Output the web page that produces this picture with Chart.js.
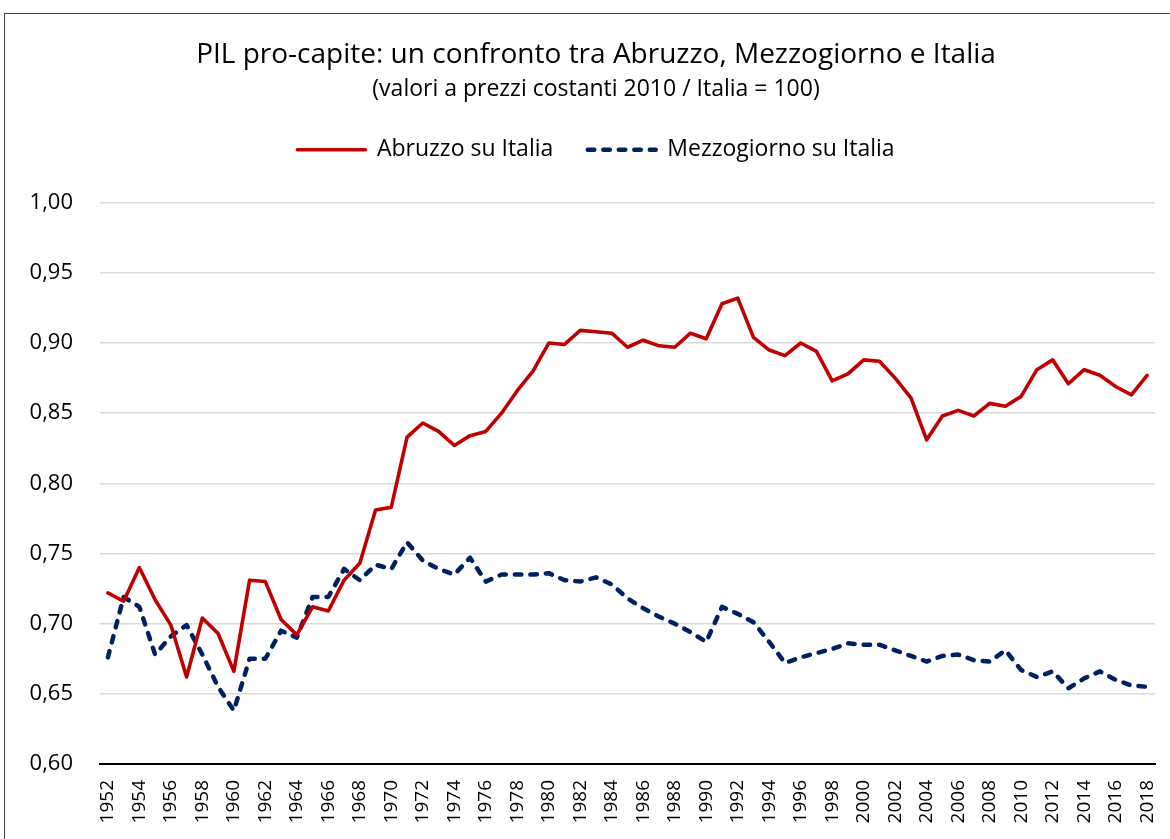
<!DOCTYPE html>
<html>
<head>
<meta charset="utf-8">
<script src="https://cdn.jsdelivr.net/npm/chart.js@4"></script>
<style>
  html, body { margin: 0; padding: 0; background: #fff; overflow: hidden; width: 1170px; height: 839px; }
  #frame { position: absolute; left: 4px; top: 13px; width: 1200px; height: 900px; border: 1px solid #404040; box-sizing: border-box; }
  #c { position: absolute; left: 5px; top: 14px; }
</style>
</head>
<body>
<div id="frame"></div>
<canvas id="c" width="1184" height="825" style="width:1184px;height:825px"></canvas>
<script>
const years = [];
for (let y = 1952; y <= 2018; y++) years.push(String(y));

const abruzzo = [
  0.722, 0.716, 0.740, 0.717, 0.699, 0.662, 0.704, 0.693, 0.666, 0.731,
  0.730, 0.703, 0.692, 0.712, 0.709, 0.731, 0.743, 0.781, 0.783, 0.833,
  0.843, 0.837, 0.827, 0.834, 0.837, 0.850, 0.866, 0.880, 0.900, 0.899,
  0.909, 0.908, 0.907, 0.897, 0.902, 0.898, 0.897, 0.907, 0.903, 0.928,
  0.932, 0.904, 0.895, 0.891, 0.900, 0.894, 0.873, 0.878, 0.888, 0.887,
  0.875, 0.861, 0.831, 0.848, 0.852, 0.848, 0.857, 0.855, 0.862, 0.881,
  0.888, 0.871, 0.881, 0.877, 0.869, 0.863, 0.877
];

const mezzogiorno = [
  0.676, 0.719, 0.712, 0.678, 0.691, 0.699, 0.678, 0.655, 0.638, 0.675,
  0.675, 0.695, 0.690, 0.719, 0.719, 0.739, 0.731, 0.742, 0.739, 0.758,
  0.745, 0.739, 0.735, 0.747, 0.730, 0.735, 0.735, 0.735, 0.736, 0.731,
  0.730, 0.733, 0.728, 0.718, 0.711, 0.705, 0.700, 0.694, 0.687, 0.712,
  0.707, 0.701, 0.687, 0.672, 0.676, 0.679, 0.682, 0.686, 0.685, 0.685,
  0.681, 0.677, 0.673, 0.677, 0.678, 0.674, 0.673, 0.681, 0.667, 0.662,
  0.666, 0.654, 0.661, 0.666, 0.660, 0.656, 0.655
];

const seriesNames = ['Abruzzo su Italia', 'Mezzogiorno su Italia'];
const titleText = 'PIL pro-capite: un confronto tra Abruzzo, Mezzogiorno e Italia';
const subtitleText = '(valori a prezzi costanti 2010 / Italia = 100)';
const yMin = 0.60, yMax = 1.00, yStep = 0.05;

const FONT = "'Open Sans', 'Liberation Sans', sans-serif";

const legendSpacer = {
  id: 'legendSpacer',
  beforeInit(chart) {
    const origFit = chart.legend.fit;
    chart.legend.fit = function () {
      origFit.bind(chart.legend)();
      this.height += 31.5;
    };
  }
};

new Chart(document.getElementById('c'), {
  type: 'line',
  data: {
    labels: years,
    datasets: [
      {
        label: seriesNames[0],
        data: abruzzo,
        borderColor: '#c00000',
        backgroundColor: '#c00000',
        borderWidth: 3.6,
        pointRadius: 0,
        pointStyle: 'line',
        tension: 0,
        borderJoinStyle: 'round',
        borderCapStyle: 'round'
      },
      {
        label: seriesNames[1],
        data: mezzogiorno,
        borderColor: '#002060',
        backgroundColor: '#002060',
        borderWidth: 4.5,
        borderDash: [6.5, 9],
        borderCapStyle: 'round',
        borderJoinStyle: 'round',
        pointRadius: 0,
        pointStyle: 'line',
        tension: 0
      }
    ]
  },
  options: {
    responsive: false,
    animation: false,
    layout: { padding: { left: 32, right: 34, top: 0, bottom: 0 } },
    plugins: {
      title: {
        display: true,
        text: titleText,
        color: '#000',
        font: { family: FONT, size: 28, weight: 'normal', lineHeight: 1.2 },
        padding: { top: 24, bottom: 4 }
      },
      subtitle: {
        display: true,
        text: subtitleText,
        color: '#000',
        font: { family: FONT, size: 23, weight: 'normal', lineHeight: 1.2 },
        padding: { top: 0.5, bottom: 0 }
      },
      legend: {
        display: true,
        position: 'top',
        labels: {
          usePointStyle: true,
          pointStyleWidth: 68,
          boxHeight: 22,
          padding: 34.5,
          color: '#000',
          font: { family: FONT, size: 23 },
          generateLabels: function (chart) {
            const items = Chart.defaults.plugins.legend.labels.generateLabels(chart);
            items.forEach(function (it, i) {
              const ds = chart.data.datasets[i];
              it.lineDash = ds.borderDash || [];
              it.lineWidth = ds.borderWidth;
              it.lineCap = ds.borderCapStyle || 'butt';
              it.strokeStyle = ds.borderColor;
              it.fillStyle = ds.borderColor;
              it.pointStyle = 'line';
            });
            return items;
          }
        }
      },
      tooltip: { enabled: false }
    },
    scales: {
      x: {
        type: 'category',
        offset: true,
        grid: { display: false, drawTicks: false },
        border: { display: true, color: '#000', width: 2 },
        ticks: {
          autoSkip: false,
          maxRotation: 90,
          minRotation: 90,
          padding: 16,
          color: '#000',
          font: { family: FONT, size: 19 },
          callback: function (v, i) { return i % 2 === 0 ? years[i] : ''; }
        },
        afterFit: function (s) { s.height = 75; }
      },
      y: {
        min: yMin,
        max: yMax,
        grid: { color: '#d9d9d9', lineWidth: 1.5, drawTicks: false },
        border: { display: false },
        ticks: {
          stepSize: yStep,
          padding: 27,
          color: '#000',
          font: { family: FONT, size: 22 },
          callback: function (v) { return v.toFixed(2).replace('.', ','); }
        },
        afterFit: function (s) {
          s.width = 63;
          s._computeLabelArea = function () { return undefined; };
        }
      }
    }
  },
  plugins: [legendSpacer]
});
</script>
</body>
</html>
